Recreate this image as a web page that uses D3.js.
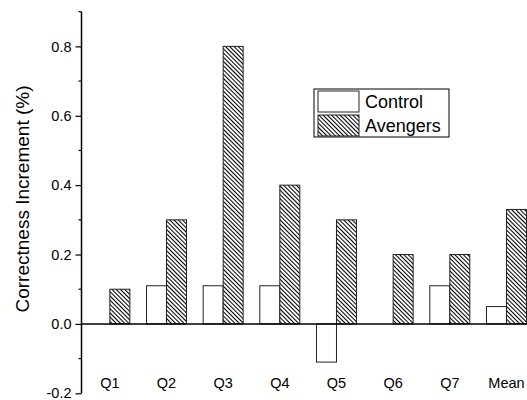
<!DOCTYPE html>
<html>
<head>
<meta charset="utf-8">
<script src="https://cdn.jsdelivr.net/npm/d3@7"></script>
<style>
    body { margin: 0; background: #fff; }
    text { font-family: "Liberation Sans", Arial, sans-serif; fill: #000; }
</style>
</head>
<body>
<svg id="chart" width="527" height="400"></svg>
<script>
//////////////////// DATA ////////////////////
const categories = ["Q1", "Q2", "Q3", "Q4", "Q5", "Q6", "Q7", "Mean"];
const seriesNames = ["Control", "Avengers"];
const controlValues = [0, 0.11, 0.11, 0.11, -0.11, 0, 0.11, 0.05];
const avengersValues = [0.1, 0.3, 0.8, 0.4, 0.3, 0.2, 0.2, 0.33];
const yTicks = [-0.2, 0.0, 0.2, 0.4, 0.6, 0.8];
const yMinorTicks = [-0.1, 0.1, 0.3, 0.5, 0.7, 0.9];

//////////////////// SIZES ////////////////////
const svg = d3.select("#chart");
const plot = { left: 81.5, right: 534.8, top: 11.7, bottom: 393.3 };

//////////////////// SCALES ////////////////////
const scaleY = d3.scaleLinear()
    .domain([-0.2, 0.9])
    .range([plot.bottom, plot.top]);

const scaleGroup = d3.scaleBand()
    .domain(categories)
    .range([plot.left, plot.right])
    .padding(0);

const step = scaleGroup.step();
const scaleSeries = d3.scaleBand()
    .domain(seriesNames)
    .range([step / 2 - 20, step / 2 + 20])
    .padding(0);

//////////////////// HATCH PATTERN ////////////////////
// lines running top-left to bottom-right
const pattern = svg.append("defs")
    .append("pattern")
    .attr("id", "hatch")
    .attr("patternUnits", "userSpaceOnUse")
    .attr("width", 3)
    .attr("height", 3)
    .attr("patternTransform", "rotate(-45)");
pattern.append("rect").attr("width", 3).attr("height", 3).attr("fill", "#fff");
pattern.append("line")
    .attr("x1", 0.5).attr("y1", 0).attr("x2", 0.5).attr("y2", 3)
    .attr("stroke", "#000")
    .attr("stroke-width", 1.1);

const fills = { Control: "#fff", Avengers: "url(#hatch)" };

//////////////////// BARS ////////////////////
const barData = [];
categories.forEach((c, i) => {
    barData.push({ cat: c, series: "Control", value: controlValues[i] });
    barData.push({ cat: c, series: "Avengers", value: avengersValues[i] });
});

svg.append("g")
    .selectAll("rect")
    .data(barData.filter(d => d.value !== 0))
    .enter()
    .append("rect")
    .attr("x", d => scaleGroup(d.cat) + scaleSeries(d.series))
    .attr("width", scaleSeries.bandwidth())
    .attr("y", d => scaleY(Math.max(0, d.value)))
    .attr("height", d => Math.abs(scaleY(d.value) - scaleY(0)))
    .attr("fill", d => fills[d.series])
    .attr("stroke", "#222")
    .attr("stroke-width", 1);

//////////////////// AXES ////////////////////
// zero line
svg.append("line")
    .attr("x1", plot.left).attr("x2", plot.right)
    .attr("y1", scaleY(0)).attr("y2", scaleY(0))
    .attr("stroke", "#000")
    .attr("stroke-width", 1.5);

// y-axis
const yAxis = d3.axisLeft(scaleY)
    .tickValues(yTicks)
    .tickFormat(d => d3.format(".1f")(d).replace("\u2212", "-"))
    .tickSize(6)
    .tickPadding(4);

const yAxisGroup = svg.append("g")
    .attr("transform", `translate(${plot.left}, 0)`)
    .call(yAxis);
yAxisGroup.select(".domain").remove();
yAxisGroup.selectAll("line").attr("stroke", "#000").attr("stroke-width", 1.2);
yAxisGroup.selectAll("text")
    .style("font-family", "'Liberation Sans', Arial, sans-serif")
    .style("font-size", "14.5px");

yAxisGroup.selectAll(".minor")
    .data(yMinorTicks)
    .enter()
    .append("line")
    .attr("class", "minor")
    .attr("x1", -3).attr("x2", 0)
    .attr("y1", d => scaleY(d)).attr("y2", d => scaleY(d))
    .attr("stroke", "#000")
    .attr("stroke-width", 1.2);

svg.append("line")
    .attr("x1", plot.left).attr("x2", plot.left)
    .attr("y1", plot.top).attr("y2", plot.bottom)
    .attr("stroke", "#000")
    .attr("stroke-width", 1.5);

// category labels
svg.append("g")
    .selectAll("text")
    .data(categories)
    .enter()
    .append("text")
    .attr("x", d => scaleGroup(d) + step / 2)
    .attr("y", 388)
    .attr("text-anchor", "middle")
    .style("font-size", "14.5px")
    .text(d => d);

// y-axis label
svg.append("text")
    .attr("transform", "translate(29, 199) rotate(-90)")
    .attr("text-anchor", "middle")
    .style("font-size", "19px")
    .text("Correctness Increment (%)");

//////////////////// LEGEND ////////////////////
const legend = svg.append("g").attr("transform", "translate(314, 89)");
legend.append("rect")
    .attr("width", 135).attr("height", 48)
    .attr("fill", "#fff")
    .attr("stroke", "#000")
    .attr("stroke-width", 1);

const legendItems = legend.selectAll(".item")
    .data(seriesNames)
    .enter()
    .append("g")
    .attr("class", "item")
    .attr("transform", (d, i) => `translate(4, ${2 + i * 24})`);

legendItems.append("rect")
    .attr("width", 41).attr("height", 21)
    .attr("fill", d => fills[d])
    .attr("stroke", "#222")
    .attr("stroke-width", 1);

legendItems.append("text")
    .attr("x", 47)
    .attr("y", 17)
    .style("font-size", "18px")
    .text(d => d);
</script>
</body>
</html>
